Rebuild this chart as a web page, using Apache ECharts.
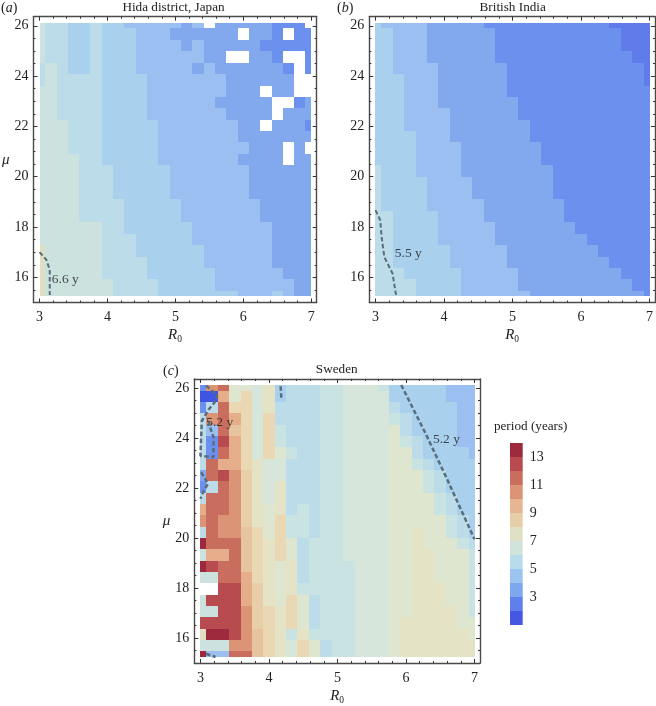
<!DOCTYPE html>
<html>
<head>
<meta charset="utf-8">
<script src="https://cdn.jsdelivr.net/npm/echarts@6/dist/echarts.min.js"></script>
<style>html,body{margin:0;padding:0;background:#fff}#c{width:656px;height:706px}</style>
</head>
<body>
<div id="c"></div>
<script>
const r0Values = [3,3.17,3.33,3.5,3.67,3.83,4,4.17,4.33,4.5,4.67,4.83,5,5.17,5.33,5.5,5.67,5.83,6,6.17,6.33,6.5,6.67,6.83,7];
const muValues = [26.12,25.67,25.21,24.76,24.31,23.85,23.4,22.95,22.49,22.04,21.59,21.13,20.68,20.23,19.77,19.32,18.87,18.41,17.96,17.51,17.05,16.6,16.15,15.69,15.24];

const levelPeriods = {a:1.5,b:2.5,c:3.2,d:3.8,e:4.5,f:5,g:5.5,q:5.8,h:6.2,r:6.4,s:6.7,t:7.2,i:7.5,j:8.2,v:8.6,u:9,k:9.6,l:10.5,m:11.5,n:12.5,o:13.5};
const levelColors = {a:'#3f55e2',b:'#5f7cea',c:'#6c90ee',d:'#82a9ee',e:'#9abff0',f:'#a9d0ec',g:'#bbdce8',q:'#c9e3e3',h:'#cbe2de',r:'#d7e6da',s:'#dee6d0',t:'#e4e3c6',i:'#dfdfc4',j:'#ead8b4',v:'#e8cfaa',u:'#e6c4a0',k:'#e5ad8a',l:'#dc9476',m:'#c96e5f',n:'#b84b50',o:'#9c2a3c'};

const hidaRows = [
"hggffgffeeeeede.dddddccc.",
"hggffgfffeeedddddd.ddc.cc",
"hggffgfffeeeededddddccccc",
"hggffgfffeeeeeedd..ddc..c",
"ghgffgfffeeeeededdddddc.c",
"ghggggffffeeeeeeedddddd..",
"hhggggffffeeeeeeeddd.dd..",
"hhggggffffeeeeeeddddd..cd",
"hhggggffffeeeeeeedddd.ddd",
"hhhgggfffffeeeeeeedd.dddc",
"hhhgggfffffeeeeeeeddddddd",
"hhhgggfffffeeeeeeeeddd.d.",
"hhhhggfffffeeeeeeedddd.dd",
"hhhhgggfffffeeeeeeedddddd",
"hhhhgggfffffeeeeeeedddddd",
"hhhhgggfffffeeeeeeedddddd",
"hhhhggggfffffeeeeeeeddddd",
"hhhhggggfffffeeeeeeeddddd",
"hhhhhhggffffffeeeeeeedddd",
"hhhhhhgggfffffeeeeeeedddd",
"ihhhhhgggffffffeeeeeedddd",
"ihhhhhggggfffffeeeeeedddd",
"ihhhhhggggffffffeeeeeeddd",
"ihhhhhhggggfffffeeeeeeedd",
"ihhhhhhggggfffffffeeefedd"
];
const indiaRows = [
"feeeedddddcccccccccccbbbb",
"ffeeeddddddcccccccccccbbb",
"ffeeeddddddcccccccccccbbb",
"ffeeeddddddccccccccccccbb",
"ffeeeeddddddccccccccccccb",
"fffeeeddddddccccccccccccb",
"fffeeeddddddccccccccccccc",
"fffeeedddddddcccccccccccc",
"fffeeeeddddddcccccccccccc",
"fffeeeedddddddccccccccccc",
"ffffeeedddddddccccccccccc",
"ffffeeeedddddddcccccccccc",
"ffffeeeedddddddcccccccccc",
"gfffeeeeddddddddccccccccc",
"gffffeeeedddddddccccccccc",
"gffffeeeedddddddccccccccc",
"gffffeeeeedddddddcccccccc",
"ggffffeeeedddddddcccccccc",
"ggffffeeeeedddddddccccccc",
"ggffffeeeeeddddddddcccccc",
"ggfffffeeeeeddddddddccccc",
"ggfffffeeeeedddddddddcccc",
"gggfffffeeeeedddddddddccc",
"ggggffffeeeeeddddddddddcc",
"ggggffffeeeeeeddddddddddc"
];
const swedenRows = [
"clm"+"ssrtfgggqqr"+"rrqfffffeee",
"aak"+"sjrtfgggqqr"+"rrrfffffeee",
"cgm"+"jjrtggggqqr"+"rrrgfffffee",
"glm"+"kjrjggggqqr"+"rrrqgffffee",
"gem"+"ujrjqgggqqr"+"rrrsgffffee",
"gcn"+"kjrjqgggqqr"+"rrrsqgfffee",
"gcm"+"kjrjsqggqqr"+"rrrssgffffe",
"gmk"+"kjtrrgggqqr"+"rrrssqgffff",
"dmn"+"lvtrrgggqqr"+"rrrsssqgfff",
"cgm"+"lvtrtgggqqr"+"rrrsssqgfff",
"gmm"+"lvtrtgggqqr"+"rrrssssqgff",
"kmm"+"lvtstgqgqqr"+"rrrssssqgff",
"lml"+"lvtsjqqgqqr"+"rrrsssssqgf",
"gml"+"lujsjqqgqqr"+"rrrsstssqgf",
"omm"+"mujtjsgqqqr"+"rrrsstsssqg",
"hkk"+"mujtjsgqqqr"+"rrrssttsssq",
"onm"+"mujtstgqqqq"+"rrrssttsssq",
"hhm"+"mkjtstgqqqq"+"rrrssttsssq",
"..n"+"nkvtstqqqqq"+"rrrsstttssq",
"hnn"+"nkvtsjsgqqq"+"rrrsstttssq",
"hhn"+"nlvjtjsgqqq"+"rrrssttttsq",
"nnn"+"nlvjtjsgqqq"+"rrrstttttss",
"ioo"+"nlujtqtqqqq"+"rrrstttttts",
"hhh"+"llujtrjsgqq"+"rrrsttttttt",
"oee"+"mmujtrjsgqq"+"rrrsttttttt"
];

const hidaContour = [[3,17],[3.1,16.7],[3.15,16.3],[3.15,15.3]];
const indiaContour = [[3,18.67],[3.07,18.27],[3.09,17.6],[3.13,16.8],[3.25,16.15],[3.3,15.3]];
const swedenContours = [
  [[5.93,26.12],[6.3,24.1],[6.6,22.35],[7,19.95]],
  [[4.17,26.07],[4.18,25.6]],
  [[3.08,26.09],[3.24,25.74],[3.24,25.54],[3.12,25.14],[3.02,24.68],[3.01,24.02],[3,23.29],[3.19,23.23],[3.19,24.02],[3.15,24.35],[3.1,24.81]],
  [[3.01,22.63],[3.11,22.17],[3.05,21.9],[3,21.57]],
  [[3.08,15.37],[3.22,15.24]]
];
const hidaLabels = [[3.38,15.92,'6.6 y']];
const indiaLabels = [[3.48,16.95,'5.5 y']];
const swedenLabels = [[3.28,24.64,'5.2 y'],[6.59,23.93,'5.2 y']];

const xMajorTicks = [3,4,5,6,7];
const xMinorTicks = [3.2,3.4,3.6,3.8,4.2,4.4,4.6,4.8,5.2,5.4,5.6,5.8,6.2,6.4,6.6,6.8];
const yMajorTicks = [16,18,20,22,24,26];
const yMinorTicks = [15.5,16.5,17,17.5,18.5,19,19.5,20.5,21,21.5,22.5,23,23.5,24.5,25,25.5];

const barEdges = [1,2,3,4,5,6,7,8,9,10,11,12,13,14];
const barColors = ['#4558e4','#5f80ec','#7ea8ee','#9cc4f0','#b8dcea','#d0e4dc','#e0e0c4','#e6cfa6','#e6b693','#dc9476','#c96e5f','#b84b50','#9c2a3c'];
const barTicks = [3,5,7,9,11,13];

const FONT = '"Liberation Serif","Times New Roman",serif';
const INK = '#222';
const FRAME = '#4a4a4a';
const LINE = '#5a6d7b';
const X_MIN = 2.91, X_MAX = 7.08, Y_MIN = 15, Y_MAX = 26.36;

const panels = [
  {left:31,  top:16.7, rows:hidaRows,   lines:[hidaContour],  labels:hidaLabels,   yName:true, lw:2},
  {left:369.3, top:16.7, rows:indiaRows,  lines:[indiaContour], labels:indiaLabels,  yName:false, lw:2},
  {left:194.3, top:379, rows:swedenRows, lines:swedenContours, labels:swedenLabels, yName:true, lw:2.5}
];
const PW = 285.7, PH = 285.8;

const richName = {
  i:{fontFamily:FONT,fontStyle:'italic',fontWeight:'normal',fontSize:15,color:INK,lineHeight:18,verticalAlign:'middle'},
  s:{fontFamily:FONT,fontWeight:'normal',fontSize:9.5,color:INK,lineHeight:18,verticalAlign:'bottom',padding:[7,0,0,0]}
};

const grids=[], xAxes=[], yAxes=[], series=[];
function tickAxis(isX, g, pos, values, len, opts){
  const a = Object.assign({
    type:'value', gridIndex:g, position:pos,
    min:isX?X_MIN:Y_MIN, max:isX?X_MAX:Y_MAX,
    splitLine:{show:false}, minorTick:{show:false},
    axisLine:{show:false, onZero:false},
    axisTick:{show:true, inside:true, length:len, customValues:values, lineStyle:{color:'#333',width:1}},
    axisLabel:{show:false}
  }, opts||{});
  (isX?xAxes:yAxes).push(a);
  return (isX?xAxes:yAxes).length-1;
}
const colorOf={};
Object.keys(levelPeriods).forEach(k=>{colorOf[levelPeriods[k]]=levelColors[k];});
panels.forEach((p,g)=>{
  grids.push({left:p.left, top:p.top, width:PW, height:PH});
  const frame = {show:true,onZero:false,lineStyle:{color:FRAME,width:1.4}};
  const xi = tickAxis(true,g,'bottom',xMajorTicks,4,{
    axisLine:frame,
    axisLabel:{show:true,customValues:xMajorTicks,margin:8,fontFamily:FONT,fontSize:14,color:INK},
    name:'{i|R}{s|0}', nameLocation:'middle', nameGap:24, nameTextStyle:{rich:richName}
  });
  tickAxis(true,g,'bottom',xMinorTicks,2);
  tickAxis(true,g,'top',xMajorTicks,4,{axisLine:frame});
  tickAxis(true,g,'top',xMinorTicks,2);
  const yOpts = {
    axisLine:frame,
    axisLabel:{show:true,customValues:yMajorTicks,margin:5,fontFamily:FONT,fontSize:14,color:INK}
  };
  if(p.yName){
    yOpts.name='{i|\u03bc}'; yOpts.nameLocation='middle'; yOpts.nameGap=22; yOpts.nameRotate=0; yOpts.nameTextStyle={rich:richName};
  }
  const yi = tickAxis(false,g,'left',yMajorTicks,4,yOpts);
  tickAxis(false,g,'left',yMinorTicks,2);
  tickAxis(false,g,'right',yMajorTicks,4,{axisLine:frame});
  tickAxis(false,g,'right',yMinorTicks,2);

  const data=[];
  p.rows.forEach((row,r)=>{
    row.split('').forEach((ch,c)=>{
      if(ch!=='.') data.push([r0Values[c],muValues[r],levelPeriods[ch],c,r]);
    });
  });
  series.push({
    type:'custom', xAxisIndex:xi, yAxisIndex:yi, coordinateSystem:'cartesian2d', clip:false, silent:true,
    encode:{x:0,y:1}, data,
    renderItem(params,api){
      const c=api.value(3), r=api.value(4);
      const xl=c>0?(r0Values[c]+r0Values[c-1])/2:r0Values[c];
      const xr=c<24?(r0Values[c]+r0Values[c+1])/2:r0Values[c];
      const yt=r>0?(muValues[r]+muValues[r-1])/2:muValues[r];
      const yb=r<24?(muValues[r]+muValues[r+1])/2:muValues[r];
      const a=api.coord([xl,yt]), b=api.coord([xr,yb]);
      const x0=Math.round(a[0]),y0=Math.round(a[1]),x1=Math.round(b[0]),y1=Math.round(b[1]);
      return {type:'rect',shape:{x:x0,y:y0,width:x1-x0,height:y1-y0},style:{fill:colorOf[api.value(2)]}};
    }
  });
  p.lines.forEach(l=>{
    series.push({
      type:'line', xAxisIndex:xi, yAxisIndex:yi, data:l, symbol:'none', silent:true, z:5, clip:false,
      lineStyle:{color:LINE,width:p.lw,type:[4.5,2.5]}
    });
  });
  series.push({
    type:'scatter', xAxisIndex:xi, yAxisIndex:yi, data:p.labels, symbolSize:1, silent:true, z:6,
    itemStyle:{color:'transparent'},
    label:{show:true,position:'inside',formatter:q=>q.value[2],fontFamily:FONT,fontSize:13.5,color:INK}
  });
});

// colour bar
const barGrid = grids.length;
grids.push({left:510, top:443.3, width:12.7, height:182});
xAxes.push({type:'value',gridIndex:barGrid,min:0,max:1,show:false});
const barX = xAxes.length-1;
yAxes.push({type:'value',gridIndex:barGrid,position:'right',min:1,max:14,splitLine:{show:false},
  axisLine:{show:false},
  axisTick:{show:true,length:4,customValues:barTicks,lineStyle:{color:'#777',width:1}},
  axisLabel:{show:true,customValues:barTicks,margin:7,fontFamily:FONT,fontSize:14,color:INK}});
const barY = yAxes.length-1;
series.push({
  type:'custom', xAxisIndex:barX, yAxisIndex:barY, silent:true, encode:{x:0,y:1},
  data:barColors.map((c,i)=>[0,barEdges[i],barEdges[i+1],i]),
  renderItem(params,api){
    const a=api.coord([0,api.value(2)]), b=api.coord([1,api.value(1)]);
    return {type:'rect',shape:{x:a[0],y:Math.round(a[1]),width:b[0]-a[0],height:Math.round(b[1])-Math.round(a[1])},style:{fill:barColors[api.value(3)]}};
  }
});

function heading(text,x,y){
  return {text,left:x,top:y,textAlign:'center',padding:0,itemGap:0,
    textStyle:{fontFamily:FONT,fontSize:13.2,fontWeight:'normal',color:INK}};
}
const tagRich = {
  p:{fontFamily:FONT,fontSize:14,fontWeight:'normal',color:INK},
  i:{fontFamily:FONT,fontSize:14,fontWeight:'normal',fontStyle:'italic',color:INK}
};
function tag(letter,x,y){
  return {text:'{p|(}{i|'+letter+'}{p|)}',left:x,top:y,padding:0,textStyle:{fontWeight:'normal',rich:tagRich}};
}
const titles = [
  heading('Hida district, Japan',173.5,1),
  heading('British India',512.7,1),
  heading('Sweden',336.7,363),
  heading('period (years)',530.7,420),
  tag('a',1,1), tag('b',337,1), tag('c',163,364)
];

const chart = echarts.init(document.getElementById('c'),null,{renderer:'canvas',width:656,height:706});
chart.setOption({animation:false,backgroundColor:'#fff',title:titles,grid:grids,xAxis:xAxes,yAxis:yAxes,series});
</script>
</body>
</html>
